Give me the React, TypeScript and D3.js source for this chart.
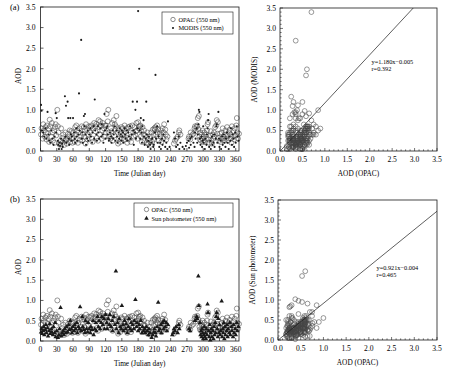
import React from 'react';
import * as d3 from 'd3';

const FONT = '"Liberation Serif", "Times New Roman", Times, serif';

const DAY_TICKS = [0, 30, 60, 90, 120, 150, 180, 210, 240, 270, 300, 330, 360];
const AOD_TICKS = [0, 0.5, 1.0, 1.5, 2.0, 2.5, 3.0, 3.5];

// OPAC AOD (550 nm), one value per Julian day 1..366 (null = no value)
const OPAC_DAILY: (number | null)[] = [
  0.40, 0.55, null, 0.30, 0.65, 0.50, null, 0.35, 0.58, 0.45, 0.28, 0.62, null, 0.42, 0.55, 0.22, 0.76, 0.60, null, 0.35, 0.68, 0.45, 0.25, null, 0.50, 0.20, 0.58, 0.65, 0.38, null,
  1.00, 0.60, 0.45, 0.18, null, 0.15, 0.25, 0.55, null, 0.32, 0.20, 0.40, null, 0.15, 0.25, 0.45, 0.28, null, 0.18, 0.30, 0.42, null, 0.35, 0.50, 0.22, null, 0.48, 0.30, 0.20, 0.45,
  0.32, null, 0.22, 0.58, 0.40, 0.62, null, 0.50, 0.20, 0.45, null, 0.55, 0.27, null, 0.35, 0.60, 0.25, 0.42, null, 0.58, 0.35, 0.50, 0.18, 0.65, null, 0.52, 0.28, 0.40, 0.60, null,
  0.45, 0.58, null, 0.62, 0.30, 0.22, 0.55, null, 0.68, null, 0.48, 0.60, 0.66, 0.32, null, 0.25, 0.75, 0.58, 0.40, 0.72, null, 0.62, 0.30, 0.50, 0.68, null, 0.55, 0.35, 0.62, 0.45,
  0.62, 0.90, null, 0.72, 1.00, 0.45, 0.35, null, 0.30, 0.55, 0.48, 0.68, 0.25, null, 0.75, 0.38, 0.65, 0.52, 0.60, 0.85, null, 0.45, 0.18, 0.55, 0.30, null, 0.22, 0.42, 0.58, 0.30,
  0.38, 0.55, null, 0.42, 0.62, 0.28, 0.48, null, 0.55, 0.20, 0.32, 0.58, null, 0.30, 0.60, 0.45, 0.22, null, 0.62, null, 0.45, 0.35, 0.58, null, 0.38, 0.48, 0.68, 0.50, 0.30, 0.70,
  0.55, 0.60, null, 0.62, 0.35, 0.48, 0.22, 0.58, null, 0.40, 0.50, 0.25, 0.38, null, null, 0.20, 0.45, 0.28, 0.18, null, 0.25, 0.35, 0.15, 0.45, null, 0.22, 0.52, 0.38, 0.28, 0.55,
  0.52, 0.58, 0.40, null, 0.62, 0.45, 0.53, 0.25, null, 0.42, 0.35, 0.50, 0.22, null, 0.55, 0.30, 0.45, 0.65, null, 0.52, 0.40, 0.28, null, 0.35, null, null, null, null, null, null,
  null, null, null, null, null, 0.18, null, 0.25, null, 0.30, null, null, 0.35, null, 0.45, 0.50, null, 0.40, null, null, null, null, null, null, null, null, null, null, null, null,
  null, null, 0.30, 0.35, null, 0.28, 0.45, null, 0.38, null, null, 0.42, null, 0.55, 0.60, 0.48, null, 0.58, 0.62, 0.80, 0.53, 0.85, 0.35, 0.28, 0.45, 0.25, 0.40, 0.30, 0.50, 0.22,
  0.35, 0.45, 0.22, null, 0.30, 0.40, 0.50, 0.65, 0.70, 0.28, 0.20, null, 0.38, 0.48, 0.25, 0.18, null, 0.40, 0.30, 0.45, 0.35, 0.58, null, 0.62, 0.75, 0.42, 0.70, 0.32, null, 0.25,
  0.42, 0.22, null, 0.45, 0.30, 0.55, 0.35, null, 0.25, 0.40, 0.50, 0.30, null, 0.58, 0.38, 0.25, 0.45, null, 0.52, 0.30, 0.40, 0.20, 0.60, null, 0.35, 0.48, 0.28, 0.55, null, 0.38,
  0.62, 0.80, 0.45, 0.30, null, 0.42,
];

// MODIS AOD (550 nm): [Julian day, AOD]
const MODIS: [number, number][] = [
  [1, 1.12], [2, 0.98], [3, 0.5], [5, 0.45], [7, 0.35], [9, 0.55], [11, 0.3], [13, 0.95], [15, 0.4], [16, 0.25], [18, 0.2], [20, 0.5], [22, 0.3], [24, 0.15], [26, 0.35], [28, 0.92], [29, 0.45], [30, 0.8],
  [32, 0.25], [33, 0.15], [34, 0.05], [35, 0.2], [36, 0.12], [38, 0.3], [39, 0.05], [40, 0.18], [41, 0.1], [43, 0.25], [45, 1.33], [46, 0.35], [47, 1.1], [48, 0.2], [50, 1.2], [51, 0.8], [52, 0.3], [53, 0.15], [55, 0.8], [56, 0.4], [57, 0.25], [58, 0.35], [60, 0.8],
  [62, 0.45], [63, 0.3], [64, 0.2], [66, 0.55], [67, 0.35], [68, 0.25], [70, 0.4], [71, 1.4], [72, 0.5], [75, 2.7], [76, 0.3], [77, 0.45], [78, 0.2], [80, 0.85], [81, 0.6], [82, 0.9], [83, 0.4], [84, 0.15], [86, 0.3], [87, 0.5], [88, 0.25], [90, 0.4],
  [92, 0.55], [93, 0.35], [95, 0.2], [96, 0.45], [98, 0.6], [99, 0.3], [100, 1.25], [101, 0.5], [103, 0.4], [104, 0.25], [106, 0.6], [107, 0.45], [108, 0.3], [110, 0.55], [112, 0.35], [113, 0.65], [115, 0.4], [116, 0.2], [118, 0.9], [119, 0.5], [120, 0.3],
  [122, 0.55], [123, 0.6], [124, 0.4], [126, 0.25], [127, 0.3], [128, 0.45], [130, 0.35], [131, 0.2], [133, 0.5], [134, 0.3], [135, 0.4], [137, 0.6], [138, 0.25], [140, 0.5], [141, 0.35], [142, 0.2], [144, 0.45], [145, 0.3], [146, 0.55], [148, 0.4], [149, 0.25], [150, 0.5],
  [151, 0.35], [152, 0.45], [153, 0.2], [155, 0.55], [156, 0.4], [157, 0.3], [159, 0.5], [160, 0.25], [162, 0.45], [163, 0.35], [165, 0.6], [166, 0.3], [168, 0.4], [170, 1.2], [171, 0.5], [172, 0.15], [174, 0.45], [175, 1.0], [176, 0.3], [178, 1.2], [179, 0.55], [180, 3.4],
  [182, 2.0], [183, 0.5], [184, 0.3], [185, 0.8], [186, 0.45], [187, 0.2], [188, 0.6], [190, 0.75], [191, 0.35], [192, 0.15], [194, 0.3], [195, 1.2], [196, 0.4], [198, 0.1], [199, 0.25], [200, 0.35], [202, 0.15], [203, 0.05], [205, 0.2], [206, 0.3], [208, 0.1], [209, 0.15],
  [211, 0.45], [212, 1.85], [213, 0.3], [215, 0.6], [216, 0.2], [218, 0.35], [219, 0.1], [221, 0.2], [222, 0.05], [224, 0.3], [225, 0.15], [227, 0.4], [228, 0.25], [230, 0.1], [232, 0.2], [234, 0.05], [235, 0.72], [238, 0.1],
  [246, 0.45], [248, 0.3], [250, 0.1], [253, 0.15], [255, 0.35], [256, 0.05], [258, 0.2], [262, 0.1], [265, 0.05], [268, 0.12], [270, 0.2], [273, 0.25], [274, 0.08], [276, 0.3], [277, 0.15], [279, 0.35], [282, 0.2], [284, 0.1], [285, 0.45], [286, 0.3], [288, 0.55], [289, 0.2], [290, 0.4],
  [291, 0.65], [292, 1.0], [293, 0.95], [294, 0.3], [295, 0.15], [297, 0.35], [298, 0.1], [299, 0.25], [300, 0.6], [301, 0.2], [303, 0.05], [304, 0.3], [306, 0.15], [307, 0.4], [308, 0.55], [309, 0.75], [310, 0.9], [311, 0.1], [313, 0.25], [314, 0.05], [316, 0.35], [317, 0.15], [319, 0.2], [320, 0.4], [321, 0.1], [323, 0.3], [324, 0.6], [325, 0.65], [326, 0.2], [328, 0.95], [329, 0.3], [330, 0.1],
  [332, 0.25], [333, 0.05], [335, 0.35], [336, 0.15], [338, 0.4], [339, 0.2], [341, 0.1], [342, 0.3], [344, 0.45], [345, 0.2], [347, 0.05], [348, 0.35], [350, 0.25], [351, 0.55], [353, 0.15], [354, 0.4], [356, 0.3], [357, 0.1], [359, 0.45], [360, 0.2], [362, 0.6], [363, 0.35], [365, 0.25],
];

// Sun photometer AOD (550 nm): [Julian day, AOD]
const SUN: [number, number][] = [
  [1, 0.22], [2, 0.3], [3, 0.18], [5, 0.25], [6, 0.35], [7, 0.15], [9, 0.28], [10, 0.4], [11, 0.2], [13, 0.32], [14, 0.12], [16, 0.25], [17, 0.42], [18, 0.18], [20, 0.3], [21, 0.22], [23, 0.15], [24, 0.35], [26, 0.2], [27, 0.45], [28, 0.1], [30, 0.25],
  [32, 0.08], [34, 0.15], [35, 0.3], [37, 0.82], [38, 0.12], [40, 0.2], [42, 0.25], [43, 0.15], [45, 0.3], [47, 0.2], [48, 0.35], [50, 0.22], [52, 0.4], [53, 0.28], [55, 0.5], [57, 0.3], [58, 0.2], [60, 0.35],
  [62, 0.25], [63, 0.4], [65, 0.3], [67, 0.45], [68, 0.2], [70, 0.35], [72, 0.3], [73, 0.84], [75, 0.25], [77, 0.6], [78, 0.35], [80, 0.28], [82, 0.2], [83, 0.5], [85, 0.3], [87, 0.22], [88, 0.45], [90, 0.3],
  [92, 0.2], [93, 0.35], [95, 0.28], [97, 0.5], [98, 0.15], [100, 0.3], [102, 0.45], [103, 0.25], [105, 0.6], [107, 0.35], [108, 0.5], [110, 0.3], [112, 0.45], [113, 0.6], [115, 0.4], [117, 0.55], [118, 0.3], [120, 0.65],
  [122, 0.45], [123, 0.3], [125, 0.55], [127, 0.4], [128, 0.65], [130, 0.35], [132, 0.5], [133, 0.25], [135, 0.6], [137, 0.4], [139, 1.72], [140, 0.3], [142, 0.45], [144, 0.2], [145, 0.55], [147, 0.35], [149, 0.3], [150, 0.87],
  [152, 0.4], [153, 0.25], [155, 0.5], [157, 0.3], [158, 0.42], [160, 0.2], [162, 0.35], [163, 0.55], [165, 0.3], [167, 0.45], [168, 0.25], [170, 0.4], [172, 0.3], [173, 0.5], [175, 1.02], [177, 0.35], [178, 0.45], [180, 0.25],
  [182, 0.4], [183, 0.3], [185, 0.5], [187, 0.2], [188, 0.35], [190, 0.25], [192, 0.3], [193, 0.2], [195, 0.35], [197, 0.25], [199, 0.15], [200, 0.3], [202, 0.2], [205, 0.08], [207, 0.15], [209, 0.22], [210, 0.3], [212, 0.2], [213, 0.12], [215, 0.35], [217, 0.95], [218, 0.25], [220, 0.3], [222, 0.4], [223, 0.2], [225, 0.45], [227, 0.3], [228, 0.5], [230, 0.35], [232, 0.45], [233, 0.25], [235, 0.4],
  [243, 0.15], [245, 0.2], [246, 0.3], [248, 0.25], [250, 0.35], [253, 0.2], [255, 0.4], [256, 0.3], [274, 0.3], [276, 0.25], [285, 0.5], [288, 0.6], [289, 0.55], [291, 1.6], [292, 0.87],
  [294, 0.45], [295, 0.15], [296, 0.25], [297, 0.1], [298, 0.3], [299, 0.2], [300, 0.05], [301, 0.15], [302, 0.35], [303, 0.1], [304, 0.2], [305, 0.05], [306, 0.3], [307, 0.15], [308, 0.91], [309, 0.7], [310, 0.25], [311, 0.1], [312, 0.4], [313, 0.02], [314, 0.2], [315, 0.3], [316, 0.1], [318, 0.25], [319, 0.05], [320, 0.35], [321, 0.15], [322, 0.45], [323, 0.2], [324, 0.6], [325, 0.7], [326, 0.3], [327, 0.1], [328, 0.55], [329, 0.2], [330, 0.4],
  [331, 0.15], [332, 0.25], [334, 0.98], [335, 0.1], [336, 0.3], [337, 0.2], [338, 0.45], [339, 0.05], [340, 0.35], [341, 0.15], [343, 0.25], [344, 0.4], [345, 0.1], [346, 0.3], [348, 0.2], [349, 0.45], [350, 0.15], [352, 0.35], [353, 0.25], [355, 0.1], [356, 0.4], [357, 0.2], [359, 0.3], [360, 0.15], [362, 0.45], [363, 0.25], [365, 0.35],
];

const FIT_A = { slope: 1.18, intercept: -0.005, eq: 'y=1.180x\u22120.005', r: 'r=0.392' };
const FIT_B = { slope: 0.921, intercept: -0.004, eq: 'y=0.921x\u22120.004', r: 'r=0.465' };

const opac: [number, number][] = OPAC_DAILY
  .map((v, i) => [i + 1, v] as [number, number | null])
  .filter((d) => d[1] != null) as [number, number][];
const opacByDay = new Map<number, number>(opac);

function pairsWith(obs: [number, number][]): [number, number][] {
  return obs.filter((d) => opacByDay.has(d[0])).map((d) => [opacByDay.get(d[0]) as number, d[1]]);
}

type Box = { l: number; r: number; t: number; b: number };

const STROKE = '#1a1a1a';
const CIRC = '#444';
const TICK_FS = 7.6;
const TITLE_FS = 7.3;

function TimeSeries({ box, other, shape, label, legend }: {
  box: Box; other: [number, number][]; shape: 'dot' | 'tri'; label: string;
  legend: { l: number; r: number; t: number; b: number; y1: number; y2: number; mx: number; tx: number; text2: string };
}) {
  const x = d3.scaleLinear().domain([0, 366]).range([box.l, box.r]);
  const y = d3.scaleLinear().domain([0, 3.5]).range([box.b, box.t]);
  const tri = d3.symbol().type(d3.symbolTriangle).size(9)() as string;
  const mark = (cx: number, cy: number, k: string | number) =>
    shape === 'dot'
      ? <circle key={k} cx={cx} cy={cy} r={1.05} fill={STROKE} />
      : <path key={k} d={tri} transform={`translate(${cx},${cy})`} fill={STROKE} />;
  return (
    <g fontFamily={FONT}>
      <text x={10} y={box.t + 3} fontSize={8.5}>{label}</text>
      {opac.map((d, i) => (
        <circle key={'o' + i} cx={x(d[0])} cy={y(d[1])} r={2.5} fill="none" stroke={CIRC} strokeWidth={0.55} />
      ))}
      {other.map((d, i) => mark(x(d[0]), y(d[1]), 'm' + i))}
      <rect x={box.l} y={box.t} width={box.r - box.l} height={box.b - box.t} fill="none" stroke={STROKE} strokeWidth={0.8} />
      {DAY_TICKS.map((t) => (
        <g key={'xt' + t}>
          <line x1={x(t)} x2={x(t)} y1={box.b} y2={box.b - 3} stroke={STROKE} strokeWidth={0.7} />
          <text x={x(t)} y={box.b + 10.5} fontSize={TICK_FS} textAnchor="middle">{t}</text>
        </g>
      ))}
      {AOD_TICKS.map((t) => (
        <g key={'yt' + t}>
          <line x1={box.l} x2={box.l + 3} y1={y(t)} y2={y(t)} stroke={STROKE} strokeWidth={0.7} />
          <text x={box.l - 5} y={y(t) + 2.8} fontSize={TICK_FS} textAnchor="end">{t.toFixed(1)}</text>
        </g>
      ))}
      <text x={(box.l + box.r) / 2} y={box.b + 24.5} fontSize={TITLE_FS} textAnchor="middle">Time (Julian day)</text>
      <text transform={`translate(${21},${(box.t + box.b) / 2 - 3}) rotate(-90)`} fontSize={TITLE_FS} textAnchor="middle">AOD</text>
      <rect x={legend.l} y={legend.t} width={legend.r - legend.l} height={legend.b - legend.t} fill="white" stroke={STROKE} strokeWidth={0.6} />
      <circle cx={legend.mx} cy={legend.y1} r={2.2} fill="none" stroke={CIRC} strokeWidth={0.6} />
      {mark(legend.mx, legend.y2, 'lg')}
      <text x={legend.tx} y={legend.y1 + 2.3} fontSize={6.3}>OPAC (550 nm)</text>
      <text x={legend.tx} y={legend.y2 + 2.3} fontSize={6.3}>{legend.text2}</text>
    </g>
  );
}

function Scatter({ box, pairs, fit, yTitle, ann }: {
  box: Box; pairs: [number, number][]; fit: typeof FIT_A; yTitle: string; ann: { x: number; y: number };
}) {
  const x = d3.scaleLinear().domain([0, 3.5]).range([box.l, box.r]);
  const y = d3.scaleLinear().domain([0, 3.5]).range([box.b, box.t]);
  const x0 = Math.max(0, -fit.intercept / fit.slope);
  const x1 = Math.min(3.5, (3.5 - fit.intercept) / fit.slope);
  const minor = d3.range(0, 3.501, 0.1);
  return (
    <g fontFamily={FONT}>
      {pairs.map((d, i) => (
        <circle key={i} cx={x(d[0])} cy={y(d[1])} r={2.4} fill="none" stroke={CIRC} strokeWidth={0.55} />
      ))}
      <line x1={x(x0)} y1={y(fit.slope * x0 + fit.intercept)} x2={x(x1)} y2={y(fit.slope * x1 + fit.intercept)} stroke={STROKE} strokeWidth={0.7} />
      <rect x={box.l} y={box.t} width={box.r - box.l} height={box.b - box.t} fill="none" stroke={STROKE} strokeWidth={0.8} />
      {minor.map((t, i) => {
        const major = i % 5 === 0;
        const len = major ? 3 : 1.6;
        return (
          <g key={'mt' + i}>
            <line x1={x(t)} x2={x(t)} y1={box.b} y2={box.b - len} stroke={STROKE} strokeWidth={0.6} />
            <line x1={box.l} x2={box.l + len} y1={y(t)} y2={y(t)} stroke={STROKE} strokeWidth={0.6} />
          </g>
        );
      })}
      {AOD_TICKS.map((t) => (
        <g key={'t' + t}>
          <text x={x(t)} y={box.b + 10.5} fontSize={TICK_FS} textAnchor="middle">{t.toFixed(1)}</text>
          <text x={box.l - 4} y={y(t) + 2.8} fontSize={TICK_FS} textAnchor="end">{t.toFixed(1)}</text>
        </g>
      ))}
      <text x={(box.l + box.r) / 2} y={box.b + 24.5} fontSize={TITLE_FS} textAnchor="middle">AOD (OPAC)</text>
      <text transform={`translate(${box.l - 23},${(box.t + box.b) / 2}) rotate(-90)`} fontSize={TITLE_FS} textAnchor="middle">{yTitle}</text>
      <text x={ann.x} y={ann.y} fontSize={6.3}>{fit.eq}</text>
      <text x={ann.x} y={ann.y + 7} fontSize={6.3}>{fit.r}</text>
    </g>
  );
}

export default function App() {
  const pairsA = pairsWith(MODIS);
  const pairsB = pairsWith(SUN);
  return (
    <svg width={450} height={374} style={{ position: 'absolute', left: 0, top: 0, background: 'white' }}>
      <rect width={450} height={374} fill="white" />
      <TimeSeries
        box={{ l: 40.5, r: 239, t: 7, b: 151 }}
        other={MODIS}
        shape="dot"
        label="(a)"
        legend={{ l: 162, r: 233, t: 12, b: 34, y1: 19.5, y2: 28, mx: 173, tx: 178.5, text2: 'MODIS (550 nm)' }}
      />
      <Scatter box={{ l: 280, r: 437, t: 8, b: 151 }} pairs={pairsA} fit={FIT_A} yTitle="AOD (MODIS)" ann={{ x: 371.5, y: 64 }} />
      <TimeSeries
        box={{ l: 40.5, r: 239, t: 199, b: 341 }}
        other={SUN}
        shape="tri"
        label="(b)"
        legend={{ l: 134, r: 233, t: 203, b: 227, y1: 209.5, y2: 218.5, mx: 146.5, tx: 151.5, text2: 'Sun photometer (550 nm)' }}
      />
      <Scatter box={{ l: 278, r: 437, t: 200, b: 340 }} pairs={pairsB} fit={FIT_B} yTitle="AOD (Sun photometer)" ann={{ x: 376.5, y: 270 }} />
    </svg>
  );
}
